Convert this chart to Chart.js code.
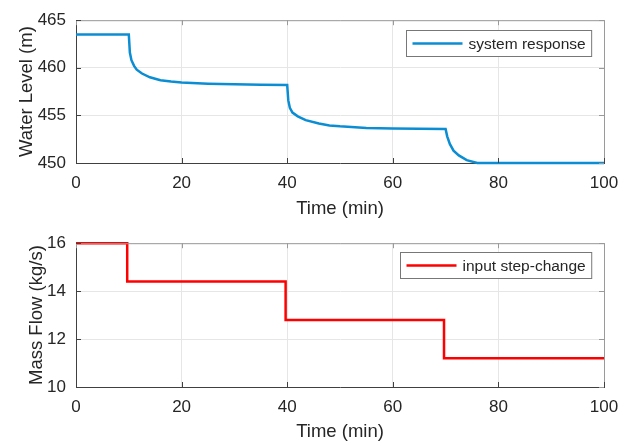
<!DOCTYPE html>
<html lang="en">
<head>
    <meta charset="UTF-8">
    <title>Water level / mass flow</title>
    <script src="https://cdn.jsdelivr.net/npm/chart.js"></script>
    <style>
        body { margin: 0; background: #fff; }
        .painel { position: absolute; left: 0; width: 632px; height: 223px; }
        #topo { top: 0; }
        #baixo { top: 223px; }
    </style>
</head>
<body>
    <div class="painel" id="topo"><canvas id="graficoNivel"></canvas></div>
    <div class="painel" id="baixo"><canvas id="graficoVazao"></canvas></div>

<script>
// data
const levelTime = [0, 10, 10.2, 10.5, 11, 11.5, 12.5, 14, 16, 18, 20, 25, 30, 35, 40,
    40.2, 40.5, 41, 42, 43.5, 46, 48, 50, 55, 60, 65, 70,
    70.3, 70.8, 71.5, 72.5, 74, 76, 100];
const levelValues = [463.5, 463.5, 461.6, 460.8, 460.2, 459.8, 459.4, 459.0, 458.7, 458.55, 458.45, 458.33, 458.27, 458.23, 458.2,
    456.6, 455.8, 455.3, 454.9, 454.5, 454.15, 453.95, 453.85, 453.68, 453.62, 453.6, 453.58,
    452.8, 452.0, 451.3, 450.8, 450.3, 450.0, 450.0];
const flowTime = [0, 9.7, 39.7, 69.7, 100];
const flowValues = [16, 14.4, 12.8, 11.2, 11.2];

const xTicks = [0, 20, 40, 60, 80, 100];
const levelTicks = [450, 455, 460, 465];
const flowTicks = [10, 12, 14, 16];

const fonte = 'Liberation Sans, Arial, sans-serif';
const texto = '#262626';

// MATLAB-like frame: top/right border, inward ticks and boxed legend
const moldura = {
    id: 'moldura',
    afterDatasetsDraw(chart, args, opts) {
        const c = chart.ctx, a = chart.chartArea;
        const sx = chart.scales.x, sy = chart.scales.y;
        c.save();
        c.strokeStyle = '#9a9a9a';
        c.lineWidth = 1;
        c.beginPath();
        c.moveTo(a.left, a.top + 0.5); c.lineTo(a.right + 0.5, a.top + 0.5); c.lineTo(a.right + 0.5, a.bottom);
        sx.ticks.forEach(t => {
            const px = Math.round(sx.getPixelForValue(t.value)) + 0.5;
            c.moveTo(px, a.top); c.lineTo(px, a.top + 5);
        });
        sy.ticks.forEach(t => {
            const py = Math.round(sy.getPixelForValue(t.value)) + 0.5;
            c.moveTo(a.right, py); c.lineTo(a.right - 5, py);
        });
        c.stroke();
        c.strokeStyle = '#404040';
        c.beginPath();
        sx.ticks.forEach(t => {
            const px = Math.round(sx.getPixelForValue(t.value)) + 0.5;
            c.moveTo(px, a.bottom); c.lineTo(px, a.bottom - 5);
        });
        sy.ticks.forEach(t => {
            const py = Math.round(sy.getPixelForValue(t.value)) + 0.5;
            c.moveTo(a.left, py); c.lineTo(a.left + 5, py);
        });
        c.stroke();

        // legend
        const ds = chart.data.datasets[0];
        c.font = '15.5px ' + fonte;
        const w = 6 + 50 + 6 + c.measureText(ds.label).width + 6;
        const h = 26;
        const bx = Math.round(a.right - opts.dx - w) + 0.5, by = Math.round(a.top + opts.dy) + 0.5;
        c.fillStyle = '#fff';
        c.fillRect(bx, by, w, h);
        c.strokeStyle = '#777';
        c.strokeRect(bx, by, w, h);
        c.strokeStyle = ds.borderColor;
        c.lineWidth = ds.borderWidth;
        c.beginPath();
        c.moveTo(bx + 6, by + h / 2); c.lineTo(bx + 56, by + h / 2);
        c.stroke();
        c.fillStyle = texto;
        c.textBaseline = 'middle';
        c.fillText(ds.label, bx + 62, by + h / 2 + 1);
        c.restore();
    }
};

function eixos(yMin, yMax, yTicks, yTitle, yTitlePad, yWidth, xHeight) {
    return {
        x: {
            type: 'linear', min: 0, max: 100,
            afterBuildTicks: s => { s.ticks = xTicks.map(v => ({ value: v })); },
            afterFit: s => { s.height = xHeight; },
            grid: { color: '#e6e6e6', drawTicks: false },
            border: { color: '#404040' },
            ticks: { color: texto, font: { family: fonte, size: 17 }, padding: 10 },
            title: { display: true, text: 'Time (min)', color: texto, font: { family: fonte, size: 18.5 }, padding: { top: 0, bottom: 3 } }
        },
        y: {
            min: yMin, max: yMax,
            afterBuildTicks: s => { s.ticks = yTicks.map(v => ({ value: v })); },
            afterFit: s => { s.width = yWidth; },
            grid: { color: '#e6e6e6', drawTicks: false },
            border: { color: '#404040' },
            ticks: { color: texto, font: { family: fonte, size: 17 }, padding: 10 },
            title: { display: true, text: yTitle, color: texto, font: { family: fonte, size: 18.5 }, padding: { top: yTitlePad, bottom: 0 } }
        }
    };
}

new Chart(document.getElementById('graficoNivel'), {
    type: 'line',
    data: {
        datasets: [{
            label: 'system response',
            data: levelTime.map((t, i) => ({ x: t, y: levelValues[i] })),
            borderColor: '#0b8dd3',
            borderWidth: 2.5,
            pointRadius: 0,
            tension: 0,
            clip: false
        }]
    },
    options: {
        responsive: true,
        maintainAspectRatio: false,
        animation: false,
        layout: { padding: { left: 0, right: 28, top: 17, bottom: 0 } },
        plugins: { legend: { display: false }, tooltip: { enabled: false }, moldura: { dx: 13, dy: 10 } },
        scales: eixos(450, 465, levelTicks, 'Water Level (m)', 16, 76, 60)
    },
    plugins: [moldura]
});

new Chart(document.getElementById('graficoVazao'), {
    type: 'line',
    data: {
        datasets: [{
            label: 'input step-change',
            data: flowTime.map((t, i) => ({ x: t, y: flowValues[i] })),
            borderColor: '#ff0000',
            borderWidth: 2.5,
            pointRadius: 0,
            stepped: 'before',
            clip: false
        }]
    },
    options: {
        responsive: true,
        maintainAspectRatio: false,
        animation: false,
        layout: { padding: { left: 0, right: 28, top: 19, bottom: 0 } },
        plugins: { legend: { display: false }, tooltip: { enabled: false }, moldura: { dx: 13, dy: 9 } },
        scales: eixos(10, 16, flowTicks, 'Mass Flow (kg/s)', 26, 76, 59)
    },
    plugins: [moldura]
});
</script>
</body>
</html>
